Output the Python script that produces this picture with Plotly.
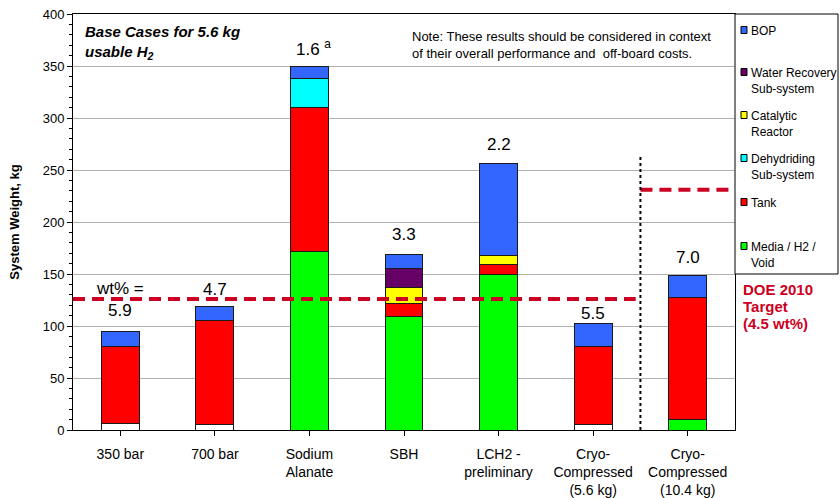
import plotly.graph_objects as go

categories = ["350 bar", "700 bar", "Sodium<br>Alanate", "SBH", "LCH2 -<br>preliminary",
              "Cryo-<br>Compressed<br>(5.6 kg)", "Cryo-<br>Compressed<br>(10.4 kg)"]
media = [6, 5, 172, 109, 149.5, 5, 10]
media_white = [True, True, False, False, False, True, False]   # compressed-gas H2 shown white
tank = [74.5, 100, 138, 13, 10, 75.5, 117]
dehydriding = [0, 0, 28, 0, 0, 0, 0]
catalytic = [0, 0, 0, 15, 8, 0, 0]
water_recovery = [0, 0, 0, 18, 0, 0, 0]
bop = [14, 14, 12, 14, 88.5, 22, 21.5]
wt_pct = ["5.9", "4.7", "1.6 <sup>a</sup>", "3.3", "2.2", "5.5", "7.0"]
doe_target = [126, 231]   # system weight at 4.5 wt% for 5.6 kg / 10.4 kg H2

FONT = "Arial, Liberation Sans, sans-serif"
W, H = 840, 498
L, R, T, B = 73, 105, 14, 68


def px(x):
    return (x - L) / (W - L - R)


def py(y):
    return (H - B - y) / (H - T - B)


def nz(vals):
    return [v if v else None for v in vals]


x = list(range(len(categories)))
fig = go.Figure()

white_part = [m if w else None for m, w in zip(media, media_white)]
green_part = [None if w else m for m, w in zip(media, media_white)]
series = [
    ("Media / H2 / Void", white_part, "#FFFFFF"),
    ("Media / H2 / Void", green_part, "#00FF00"),
    ("Tank", nz(tank), "#FF0000"),
    ("Dehydriding Sub-system", nz(dehydriding), "#00FFFF"),
    ("Catalytic Reactor", nz(catalytic), "#FFFF00"),
    ("Water Recovery Sub-system", nz(water_recovery), "#660066"),
    ("BOP", nz(bop), "#3366FF"),
]
for name, vals, color in series:
    fig.add_trace(go.Bar(x=x, y=vals, name=name, width=0.4, showlegend=False,
                         marker=dict(color=color, line=dict(color="#1a1a1a", width=1))))

totals = [sum(v) for v in zip(media, tank, dehydriding, catalytic, water_recovery, bop)]
label_shift = [21, 17, 18.5, 20, 19, 10, 18]
for i, (t, lab) in enumerate(zip(totals, wt_pct)):
    fig.add_annotation(x=i, y=t, text=lab, showarrow=False, yanchor="middle",
                       yshift=label_shift[i], xshift=4 if "sup" in lab else 0,
                       font=dict(size=17, color="black", family=FONT))
fig.add_annotation(x=0, y=totals[0], text="wt% =", showarrow=False, yanchor="middle",
                   yshift=43, font=dict(size=17, color="black", family=FONT))

# DOE 2010 target lines and separator
red = "#CC0022"
fig.add_shape(type="line", x0=-0.5, x1=5.45, y0=doe_target[0], y1=doe_target[0],
              line=dict(color=red, width=4, dash="12px,7px"))
fig.add_shape(type="line", x0=5.5, x1=6.5, y0=doe_target[1], y1=doe_target[1],
              line=dict(color=red, width=4, dash="12px,7px"))
fig.add_shape(type="line", x0=5.5, x1=5.5, y0=0, y1=265,
              line=dict(color="black", width=2, dash="dot"))

for i, line in enumerate(["DOE 2010", "Target", "(4.5 wt%)"]):
    fig.add_annotation(xref="paper", yref="paper", x=px(741), y=py(289 + 17 * i),
                       xanchor="left", yanchor="middle", text=f"<b>{line}</b>",
                       showarrow=False, font=dict(size=15, color=red, family=FONT))

fig.add_annotation(xref="paper", yref="paper", x=px(83), y=py(21), xanchor="left",
                   yanchor="top", align="left", showarrow=False,
                   text="<b><i>Base Cases for 5.6 kg<br>usable H<sub>2</sub></i></b>",
                   font=dict(size=15, color="black", family=FONT))
fig.add_annotation(xref="paper", yref="paper", x=px(410), y=py(27), xanchor="left",
                   yanchor="top", align="left", showarrow=False,
                   text="Note: These results should be considered in context<br>"
                        "of their overall performance and  off-board costs.",
                   font=dict(size=13, color="black", family=FONT))

# legend box
legend_items = [("BOP", "#3366FF", 30), ("Water Recovery<br>Sub-system", "#660066", 72),
                ("Catalytic<br>Reactor", "#FFFF00", 115), ("Dehydriding<br>Sub-system", "#00FFFF", 158),
                ("Tank", "#FF0000", 202), ("Media / H2 /<br>Void", "#00FF00", 246)]
fig.add_shape(type="rect", xref="paper", yref="paper", x0=px(735), x1=px(838), y0=py(274), y1=py(14),
              line=dict(color="black", width=1), fillcolor="white", layer="above")
for name, color, yc in legend_items:
    fig.add_shape(type="rect", xref="paper", yref="paper", x0=px(741), x1=px(747),
                  y0=py(yc + 3.5), y1=py(yc - 3.5), fillcolor=color,
                  line=dict(color="black", width=1), layer="above")
    fig.add_annotation(xref="paper", yref="paper", x=px(749), y=py(yc - 8), xanchor="left",
                       yanchor="top", align="left", showarrow=False, text=name,
                       font=dict(size=12, color="black", family=FONT))

fig.update_layout(
    width=W, height=H, barmode="stack",
    margin=dict(l=L, r=R, t=T, b=B),
    paper_bgcolor="white", plot_bgcolor="white",
    font=dict(family=FONT, size=13, color="black"),
    xaxis=dict(tickvals=x, ticktext=categories, range=[-0.5, 6.5], tickson="boundaries",
               ticks="outside", ticklen=5, tickcolor="black", showline=True, linecolor="black",
               linewidth=1, mirror=True, showgrid=False, tickfont=dict(size=14),
               ticklabelstandoff=6, automargin=False),
    yaxis=dict(title=dict(text="<b>System Weight, kg</b>", font=dict(size=13), standoff=20),
               range=[0, 400], dtick=50, ticks="outside", ticklen=5, tickcolor="black",
               showline=True, linecolor="black", linewidth=1, mirror=True, automargin=False,
               gridcolor="#B0B0B0", gridwidth=1, zeroline=False, tickfont=dict(size=13),
               minor=dict(dtick=10, ticks="outside", ticklen=3, tickcolor="black", showgrid=False)),
)

fig.write_html("out.html", config={"displayModeBar": False},
               post_script="document.body.style.margin='0';")
